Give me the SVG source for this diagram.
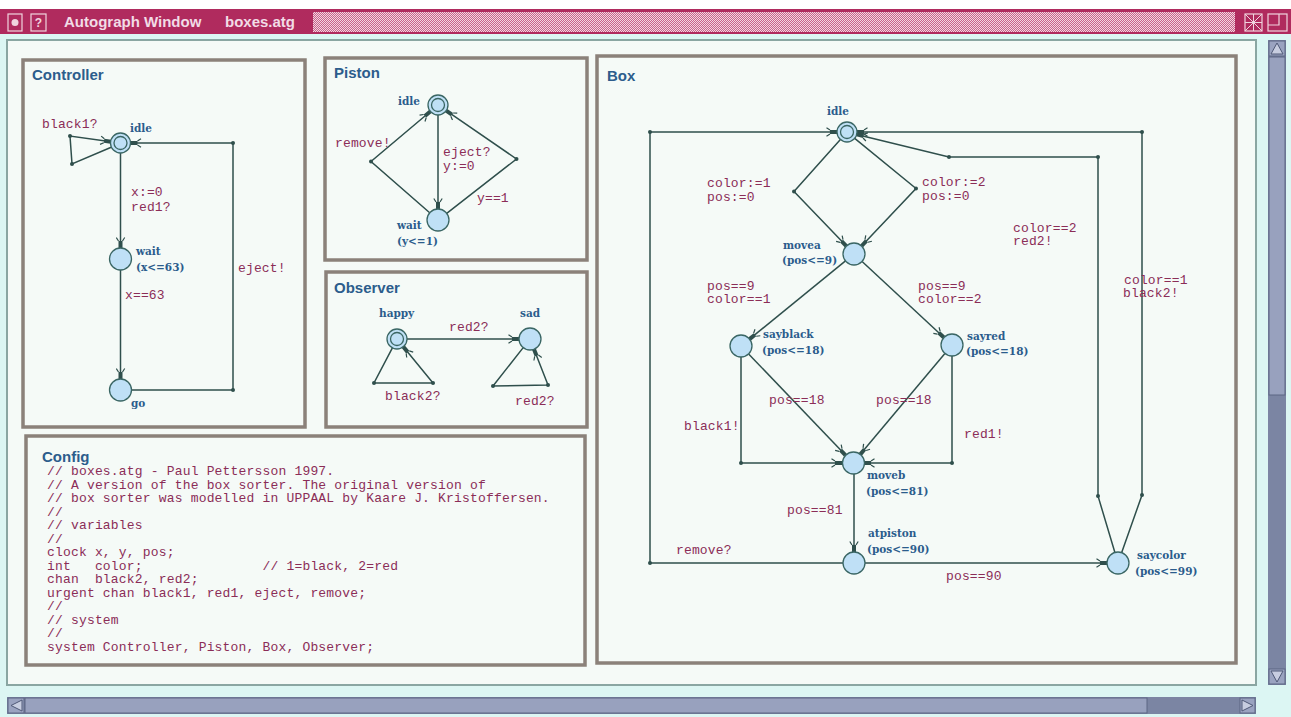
<svg xmlns="http://www.w3.org/2000/svg" width="1291" height="717" viewBox="0 0 1291 717">
<style>
.frame{fill:#f5faf7;stroke:#8b817a;stroke-width:3.5}
.tt{font-family:"Liberation Sans",Arial,sans-serif;font-weight:bold;font-size:15px;fill:#2c5d8c}
.nl{font-family:"DejaVu Serif",serif;font-weight:bold;font-size:10.5px;fill:#2b5c8c}
.el{font-family:"Liberation Mono",monospace;font-size:13px;fill:#8b2d57;letter-spacing:0.15px}
.cfg{font-family:"Liberation Mono",monospace;font-size:13px;fill:#8b2d57;white-space:pre;letter-spacing:0.18px}
.e{fill:none;stroke:#2f4f4c;stroke-width:1.5}
.ea{fill:none;stroke:#2f4f4c;stroke-width:1.5;marker-end:url(#arr)}
.n{fill:#bfe0f6;stroke:#3a6664;stroke-width:1.3}
.ni{fill:#bfe0f6;stroke:#3a6664;stroke-width:1.3}
.pt{fill:#2f4f4c}
</style>
<defs>
<marker id="arr" viewBox="-12 -5 12 10" refX="0" refY="0" markerWidth="12" markerHeight="10" markerUnits="userSpaceOnUse" orient="auto">
<rect x="-7" y="-2" width="7" height="4" fill="#2f4f4c"/>
<path d="M-7,-2 L-10.5,-4.2 M-7,2 L-10.5,4.2" stroke="#2f4f4c" stroke-width="1.2" fill="none"/>
</marker>
<pattern id="hatch" width="2" height="2" patternUnits="userSpaceOnUse">
<rect width="2" height="2" fill="#c9628a"/>
<rect width="1" height="1" fill="#f2d6e1"/>
<rect x="1" y="1" width="1" height="1" fill="#f2d6e1"/>
</pattern>
</defs>

<!-- window -->
<rect x="0" y="0" width="1291" height="717" fill="#ffffff"/>
<rect x="0" y="34" width="1291" height="683" fill="#dcf6f3"/>
<g id="titlebar">
<rect x="0" y="9" width="1291" height="25" fill="#b02b5e"/>
<rect x="8" y="14" width="14" height="17" fill="none" stroke="#f0d4de" stroke-width="1.2"/>
<circle cx="15" cy="22.5" r="3.5" fill="#f0d4de"/>
<rect x="31" y="14" width="15" height="17" fill="none" stroke="#f0d4de" stroke-width="1.2"/>
<text x="38.5" y="27" text-anchor="middle" font-family="Liberation Sans,sans-serif" font-weight="bold" font-size="12" fill="#f0d4de">?</text>
<text x="64" y="27" font-family="Liberation Sans,Arial,sans-serif" font-weight="bold" font-size="15" fill="#f2dce6">Autograph Window</text>
<text x="225" y="27" font-family="Liberation Sans,Arial,sans-serif" font-weight="bold" font-size="15" fill="#f2dce6">boxes.atg</text>
<rect x="313" y="12" width="922" height="20" fill="url(#hatch)"/>
<rect x="1245" y="14" width="17" height="17" fill="none" stroke="#f0d4de" stroke-width="1.2"/>
<path d="M1245,14 L1262,31 M1262,14 L1245,31 M1253.5,14 V31 M1245,22.5 H1262" stroke="#f0d4de" stroke-width="1"/>
<rect x="1268" y="14" width="19" height="17" fill="none" stroke="#f0d4de" stroke-width="1.2"/>
<path d="M1268,25 H1279 V14" stroke="#f0d4de" stroke-width="1.2" fill="none"/>
</g>

<!-- canvas -->
<rect x="7" y="40" width="1249" height="645" fill="#f5faf7" stroke="#8aa6a2" stroke-width="2"/>

<!-- scrollbars -->
<g id="vscroll">
<rect x="1268" y="40" width="18" height="645" fill="#7b85a3"/>
<rect x="1269" y="41" width="16" height="15" fill="#9aa3c0" stroke="#5c6684" stroke-width="1"/>
<path d="M1271,54 L1277,43 L1283,54 Z" fill="#c7cde0" stroke="#4f5977" stroke-width="1"/>
<rect x="1269" y="57" width="16" height="338" fill="#98a1be" stroke="#5c6684" stroke-width="1"/>
<rect x="1269" y="669" width="16" height="15" fill="#9aa3c0" stroke="#5c6684" stroke-width="1"/>
<path d="M1271,671 L1277,682 L1283,671 Z" fill="#c7cde0" stroke="#4f5977" stroke-width="1"/>
</g>
<g id="hscroll">
<rect x="7" y="697" width="1249" height="17" fill="#7b85a3"/>
<rect x="8" y="698" width="16" height="15" fill="#9aa3c0" stroke="#5c6684" stroke-width="1"/>
<path d="M22,700 L11,705.5 L22,711 Z" fill="#c7cde0" stroke="#4f5977" stroke-width="1"/>
<rect x="25" y="698" width="1122" height="15" fill="#98a1be" stroke="#5c6684" stroke-width="1"/>
<rect x="1240" y="698" width="15" height="15" fill="#9aa3c0" stroke="#5c6684" stroke-width="1"/>
<path d="M1242,700 L1253,705.5 L1242,711 Z" fill="#c7cde0" stroke="#4f5977" stroke-width="1"/>
</g>

<!-- panels -->
<g id="panel-controller"><rect class="frame" x="23" y="60" width="282" height="367"/><text class="tt" x="32" y="80">Controller</text></g>
<g id="panel-piston"><rect class="frame" x="325" y="58" width="262" height="202"/><text class="tt" x="334" y="78">Piston</text></g>
<g id="panel-observer"><rect class="frame" x="326" y="272" width="261" height="155"/><text class="tt" x="334" y="293">Observer</text></g>
<g id="panel-config"><rect class="frame" x="26" y="436" width="559" height="229"/><text class="tt" x="42" y="462">Config</text>
<text class="cfg" x="47" y="475">// boxes.atg - Paul Pettersson 1997.</text>
<text class="cfg" x="47" y="488.5">// A version of the box sorter. The original version of</text>
<text class="cfg" x="47" y="502">// box sorter was modelled in UPPAAL by Kaare J. Kristoffersen.</text>
<text class="cfg" x="47" y="515.5">//</text>
<text class="cfg" x="47" y="529">// variables</text>
<text class="cfg" x="47" y="542.5">//</text>
<text class="cfg" x="47" y="556">clock x, y, pos;</text>
<text class="cfg" x="47" y="569.5">int   color;               // 1=black, 2=red</text>
<text class="cfg" x="47" y="583">chan  black2, red2;</text>
<text class="cfg" x="47" y="596.5">urgent chan black1, red1, eject, remove;</text>
<text class="cfg" x="47" y="610">//</text>
<text class="cfg" x="47" y="623.5">// system</text>
<text class="cfg" x="47" y="637">//</text>
<text class="cfg" x="47" y="650.5">system Controller, Piston, Box, Observer;</text>
</g>
<g id="panel-box"><rect class="frame" x="597" y="56" width="639" height="607"/><text class="tt" x="607" y="81">Box</text></g>

<!-- connectors -->
<g id="connectors">
<!-- Controller -->
<path class="ea" d="M111.8,147 L72,164 L70,136 L111,141.7"/>
<path class="ea" d="M120.5,153 L120.5,248"/>
<path class="ea" d="M120.5,270 L120.5,379"/>
<path class="ea" d="M131.5,390 L233,390 L233,143 L130.5,143"/>
<circle class="pt" cx="70" cy="136" r="2"/><circle class="pt" cx="72" cy="164" r="2"/>
<circle class="pt" cx="233" cy="143" r="2"/><circle class="pt" cx="233" cy="390" r="2"/>
<text class="el" x="42" y="128">black1?</text>
<text class="el" x="131" y="196">x:=0</text>
<text class="el" x="131" y="211">red1?</text>
<text class="el" x="125" y="299">x==63</text>
<text class="el" x="238" y="272">eject!</text>
<!-- Piston -->
<path class="ea" d="M429.7,212.8 L371,161.5 L430.3,111.5"/>
<path class="ea" d="M438,115 L438,209"/>
<path class="ea" d="M446.7,213.3 L516.5,159 L446.2,110.7"/>
<circle class="pt" cx="371" cy="161.5" r="2"/><circle class="pt" cx="516.5" cy="159" r="2"/>
<text class="el" x="335" y="147">remove!</text>
<text class="el" x="443" y="156">eject?</text>
<text class="el" x="443" y="170">y:=0</text>
<text class="el" x="477" y="202">y==1</text>
<!-- Observer -->
<path class="ea" d="M407,339 L519,339"/>
<path class="ea" d="M392.4,347.9 L374,383 L433,383 L403.3,346.7"/>
<path class="ea" d="M523.2,347.6 L493,386 L548,385 L534,349.2"/>
<circle class="pt" cx="374" cy="383" r="2"/><circle class="pt" cx="433" cy="383" r="2"/>
<circle class="pt" cx="493" cy="386" r="2"/><circle class="pt" cx="548" cy="385" r="2"/>
<text class="el" x="449" y="331">red2?</text>
<text class="el" x="385" y="400">black2?</text>
<text class="el" x="515" y="405">red2?</text>
<!-- Box -->
<path class="ea" d="M840.4,139.5 L794,191.5 L846.4,246.1"/>
<path class="ea" d="M854.7,138.3 L916,188.5 L861.6,246"/>
<path class="ea" d="M845.5,260.9 L749.5,339.1"/>
<path class="ea" d="M862.1,261.5 L943.9,337.5"/>
<path class="ea" d="M748.6,353.9 L845.4,455.1"/>
<path class="ea" d="M944.9,353.4 L860.1,454.6"/>
<path class="ea" d="M741,357 L741,463 L842,463"/>
<path class="ea" d="M952,356 L952,463 L864,463"/>
<path class="ea" d="M854,474 L854,552"/>
<path class="ea" d="M865,563 L1107,563"/>
<path class="ea" d="M843,563 L650,563 L650,132 L837,132"/>
<path class="ea" d="M1121.7,552.6 L1142,495 L1142,132 L857,132"/>
<path class="ea" d="M1114.9,552.5 L1098,496 L1098,157 L949,157 L856.7,134.4"/>
<circle class="pt" cx="650" cy="132" r="2"/><circle class="pt" cx="650" cy="563" r="2"/>
<circle class="pt" cx="794" cy="191.5" r="2"/><circle class="pt" cx="916" cy="188.5" r="2"/>
<circle class="pt" cx="949" cy="157" r="2"/><circle class="pt" cx="1098" cy="157" r="2"/>
<circle class="pt" cx="1142" cy="132" r="2"/><circle class="pt" cx="1098" cy="496" r="2"/>
<circle class="pt" cx="1142" cy="495" r="2"/><circle class="pt" cx="741" cy="463" r="2"/>
<circle class="pt" cx="952" cy="463" r="2"/>
<text class="el" x="707" y="187">color:=1</text>
<text class="el" x="707" y="201">pos:=0</text>
<text class="el" x="922" y="186">color:=2</text>
<text class="el" x="922" y="200">pos:=0</text>
<text class="el" x="707" y="290">pos==9</text>
<text class="el" x="707" y="303">color==1</text>
<text class="el" x="918" y="290">pos==9</text>
<text class="el" x="918" y="303">color==2</text>
<text class="el" x="769" y="404">pos==18</text>
<text class="el" x="876" y="404">pos==18</text>
<text class="el" x="684" y="430">black1!</text>
<text class="el" x="964" y="438">red1!</text>
<text class="el" x="787" y="514">pos==81</text>
<text class="el" x="676" y="554">remove?</text>
<text class="el" x="946" y="580">pos==90</text>
<text class="el" x="1013" y="232">color==2</text>
<text class="el" x="1013" y="245">red2!</text>
<text class="el" x="1124" y="284">color==1</text>
<text class="el" x="1123" y="297">black2!</text>
</g>

<!-- nodes -->
<g id="ctrl-idle"><circle class="n" cx="120.5" cy="143" r="10"/><circle class="ni" cx="120.5" cy="143" r="6.5"/><text class="nl" x="130" y="132">idle</text></g>
<g id="ctrl-wait"><circle class="n" cx="120.5" cy="259" r="11"/><text class="nl" x="136" y="255">wait</text><text class="nl" x="136" y="271">(x&lt;=63)</text></g>
<g id="ctrl-go"><circle class="n" cx="120.5" cy="390" r="11"/><text class="nl" x="131" y="407">go</text></g>

<g id="piston-idle"><circle class="n" cx="438" cy="105" r="10"/><circle class="ni" cx="438" cy="105" r="6.5"/><text class="nl" x="398" y="105">idle</text></g>
<g id="piston-wait"><circle class="n" cx="438" cy="220" r="11"/><text class="nl" x="397" y="229">wait</text><text class="nl" x="397" y="245">(y&lt;=1)</text></g>

<g id="obs-happy"><circle class="n" cx="397" cy="339" r="10"/><circle class="ni" cx="397" cy="339" r="6.5"/><text class="nl" x="379" y="317">happy</text></g>
<g id="obs-sad"><circle class="n" cx="530" cy="339" r="11"/><text class="nl" x="520" y="317">sad</text></g>

<g id="box-idle"><circle class="n" cx="847" cy="132" r="10"/><circle class="ni" cx="847" cy="132" r="6.5"/><text class="nl" x="827" y="115">idle</text></g>
<g id="box-movea"><circle class="n" cx="854" cy="254" r="11"/><text class="nl" x="783" y="249">movea</text><text class="nl" x="782" y="264">(pos&lt;=9)</text></g>
<g id="box-sayblack"><circle class="n" cx="741" cy="346" r="11"/><text class="nl" x="763" y="338">sayblack</text><text class="nl" x="762" y="354">(pos&lt;=18)</text></g>
<g id="box-sayred"><circle class="n" cx="952" cy="345" r="11"/><text class="nl" x="967" y="340">sayred</text><text class="nl" x="966" y="355">(pos&lt;=18)</text></g>
<g id="box-moveb"><circle class="n" cx="853.5" cy="463" r="11"/><text class="nl" x="867" y="479">moveb</text><text class="nl" x="866" y="495">(pos&lt;=81)</text></g>
<g id="box-atpiston"><circle class="n" cx="854" cy="563" r="11"/><text class="nl" x="868" y="537">atpiston</text><text class="nl" x="867" y="553">(pos&lt;=90)</text></g>
<g id="box-saycolor"><circle class="n" cx="1118" cy="563" r="11"/><text class="nl" x="1137" y="559">saycolor</text><text class="nl" x="1135" y="575">(pos&lt;=99)</text></g>
</svg>
